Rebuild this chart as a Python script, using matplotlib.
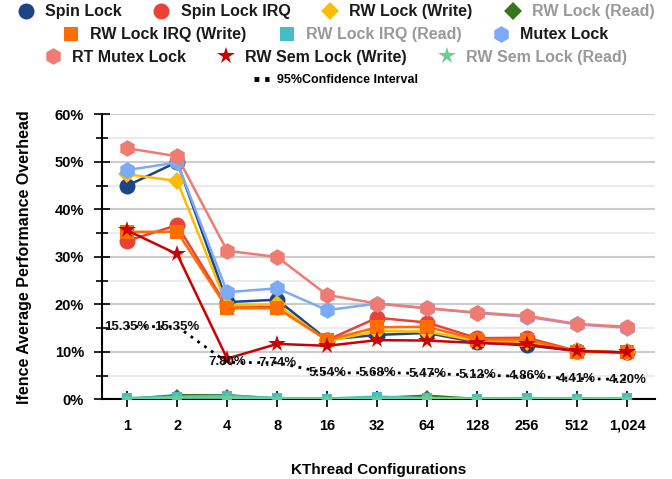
import matplotlib.pyplot as plt
from matplotlib.lines import Line2D
from matplotlib.ticker import MultipleLocator, FuncFormatter

plt.rcParams['font.family'] = ['Liberation Sans', 'DejaVu Sans']
plt.rcParams['font.weight'] = 'bold'

# kthread configurations on the x axis
configs = ['1', '2', '4', '8', '16', '32', '64', '128', '256', '512', '1,024']

# lfence average overhead (%)
spin_lock = [45.0, 50.0, 20.5, 21.0, 12.6, 13.6, 14.0, 12.0, 11.4, 10.2, 9.9]
spin_lock_irq = [33.4, 36.7, 19.5, 19.4, 12.5, 17.2, 16.2, 12.9, 13.0, 10.2, 9.9]
rw_lock_write = [47.4, 46.0, 19.8, 20.0, 12.3, 14.4, 14.3, 12.3, 12.0, 10.2, 9.9]
rw_lock_read = [0.1, 0.9, 0.9, 0.2, 0.1, 0.3, 0.8, 0.1, 0.1, 0.1, 0.1]
rw_lock_irq_write = [35.3, 35.3, 19.2, 19.2, 12.5, 15.2, 15.3, 12.6, 12.6, 10.1, 9.9]
rw_lock_irq_read = [0.3, 0.6, 0.8, 0.3, 0.2, 0.6, 0.3, 0.2, 0.3, 0.2, 0.3]
mutex_lock = [48.3, 49.9, 22.6, 23.4, 18.8, 20.2, 19.2, 18.2, 17.4, 15.8, 15.1]
rt_mutex_lock = [52.9, 51.2, 31.3, 30.0, 22.0, 20.2, 19.2, 18.3, 17.6, 15.9, 15.3]
rw_sem_write = [35.6, 30.6, 8.6, 11.7, 11.3, 12.5, 12.4, 11.9, 11.6, 10.2, 9.9]
rw_sem_read = [0.1, 0.4, 0.4, 0.2, 0.1, 0.2, 0.3, 0.1, 0.2, 0.2, 0.2]

# 95% confidence interval
conf_interval = [15.35, 15.35, 7.80, 7.74, 5.54, 5.68, 5.47, 5.12, 4.86, 4.41, 4.20]

series = [
    ('Spin Lock', spin_lock, '#1c4587', 'o', False),
    ('Spin Lock IRQ', spin_lock_irq, '#ea4335', 'o', False),
    ('RW Lock (Write)', rw_lock_write, '#fbbc04', 'D', False),
    ('RW Lock (Read)', rw_lock_read, '#38761d', 'D', True),
    ('RW Lock IRQ (Write)', rw_lock_irq_write, '#ff6d01', 's', False),
    ('RW Lock IRQ (Read)', rw_lock_irq_read, '#46bdc6', 's', True),
    ('Mutex Lock', mutex_lock, '#7baaf7', 'h', False),
    ('RT Mutex Lock', rt_mutex_lock, '#f07b72', 'h', False),
    ('RW Sem Lock (Write)', rw_sem_write, '#cc0000', '*', False),
    ('RW Sem Lock (Read)', rw_sem_read, '#6dcf8f', '*', True),
]
sizes = {'o': 11.5, 'D': 9, 's': 10.5, 'h': 12, '*': 13}

fig = plt.figure(figsize=(6.72, 4.79), dpi=100)
ax = fig.add_axes([0.152, 0.166, 0.823, 0.595])

x = list(range(len(configs)))
handles = {}
for name, vals, colour, marker, faded in series:
    ms = sizes[marker]
    ax.plot(x, vals, color=colour, lw=1.8, marker=marker,
            markersize=ms * 0.7 if faded else ms, markeredgewidth=0, zorder=3)
    handles[name] = Line2D([], [], color=colour, marker=marker, linestyle='none',
                           markersize=ms, markeredgewidth=0)

ax.plot(x, conf_interval, color='black', lw=2, linestyle=(0, (1, 2)), zorder=4)
for xi, v in zip(x, conf_interval):
    ax.text(xi, v, '%.2f%%' % v, ha='center', va='center', fontsize=9.5,
            color='#111111', zorder=5)

ax.set_xlim(-0.5, 10.56)
ax.set_ylim(0, 60)
ax.set_xticks(x)
ax.set_xticklabels(configs, fontsize=10.5)
ax.yaxis.set_major_locator(MultipleLocator(10))
ax.yaxis.set_minor_locator(MultipleLocator(5))
ax.yaxis.set_major_formatter(FuncFormatter(lambda v, p: '%d%%' % v))
ax.tick_params(axis='y', which='major', direction='inout', length=12, width=1.2,
               labelsize=10.5, pad=7)
ax.tick_params(axis='y', which='minor', direction='inout', length=8, width=1.2)
ax.tick_params(axis='x', direction='inout', length=12, width=1.2, pad=8)
ax.grid(axis='y', which='major', color='#cccccc', lw=1.5, zorder=0)
ax.grid(axis='y', which='minor', color='#e8e8e8', lw=1.2, zorder=0)
ax.set_axisbelow(True)
for s in ['top', 'right']:
    ax.spines[s].set_visible(False)
for s in ['left', 'bottom']:
    ax.spines[s].set_linewidth(1.5)
    ax.spines[s].set_zorder(2)

ax.set_xlabel('KThread Configurations', fontsize=11, fontweight='bold', labelpad=22)
ax.set_ylabel('lfence Average Performance Overhead', fontsize=11.5,
              fontweight='bold', labelpad=16)

# legend rows, centred at the top
rows = [
    (['Spin Lock', 'Spin Lock IRQ', 'RW Lock (Write)', 'RW Lock (Read)'], 0.975),
    (['RW Lock IRQ (Write)', 'RW Lock IRQ (Read)', 'Mutex Lock'], 0.927),
    (['RT Mutex Lock', 'RW Sem Lock (Write)', 'RW Sem Lock (Read)'], 0.88),
]
faded_names = {s[0] for s in series if s[4]}
for names, ypos in rows:
    leg = fig.legend([handles[n] for n in names], names, loc='center',
                     bbox_to_anchor=(0.5, ypos), ncol=len(names), frameon=False,
                     fontsize=11.5, handlelength=1.0, handletextpad=0.7,
                     columnspacing=2.0, borderpad=0, borderaxespad=0)
    for t in leg.get_texts():
        t.set_color('#999999' if t.get_text() in faded_names else '#1a1a1a')

ci_handle = Line2D([], [], color='black', lw=3.5, linestyle=(0, (1, 1.2)))
fig.legend([ci_handle], ['95%Confidence Interval'], loc='center',
           bbox_to_anchor=(0.5, 0.833), frameon=False, fontsize=9,
           handlelength=1.2, handletextpad=0.6, borderpad=0)

fig.savefig('out.png', dpi=100)
